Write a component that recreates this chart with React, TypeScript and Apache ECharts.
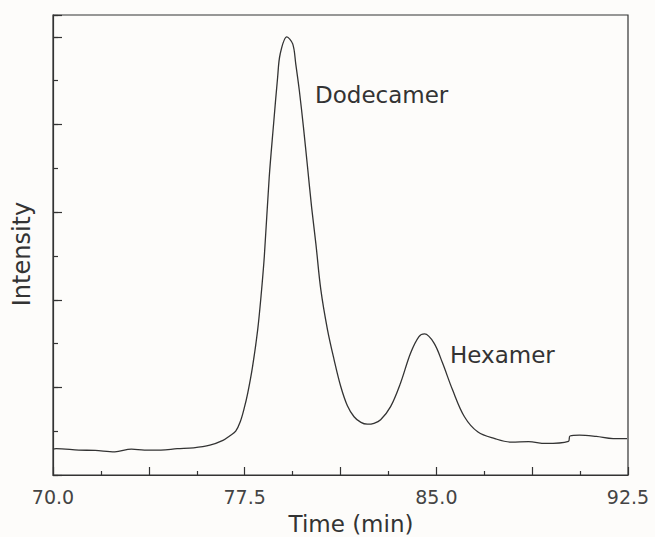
import React, { useEffect, useRef } from "react";
import * as echarts from "echarts";

// Elution time (min) and detector intensity (arbitrary units, axis tick = 1)
const times: number[] = [
  70.0, 70.12, 71.01, 71.65, 72.42, 73.07, 73.58, 74.22, 74.86, 75.5, 76.14, 76.65, 76.91, 77.15, 77.33,
  77.48, 77.62, 77.81, 78.01, 78.14, 78.27, 78.46, 78.63, 78.79, 78.89, 79.15, 79.38, 79.5, 79.64, 79.8,
  79.96, 80.12, 80.29, 80.48, 80.74, 81.0, 81.26, 81.52, 81.78, 82.05, 82.3, 82.56, 82.82, 83.21, 83.6,
  83.99, 84.32, 84.54, 84.91, 85.24, 85.63, 86.1, 86.63, 87.29, 87.94, 88.61, 89.27, 90.17, 90.23, 90.6,
  91.26, 91.92, 92.46,
];
const intensity: number[] = [
  0.59, 0.6, 0.57, 0.56, 0.53, 0.59, 0.57, 0.57, 0.6, 0.62, 0.68, 0.79, 0.89, 1.0, 1.22,
  1.52, 1.87, 2.48, 3.32, 4.08, 5.0, 6.79, 8.0, 9.08, 9.61, 10.0, 9.84, 9.38, 8.77, 7.94,
  7.03, 6.11, 5.26, 4.23, 3.32, 2.63, 2.02, 1.58, 1.33, 1.2, 1.16, 1.18, 1.26, 1.56, 2.1,
  2.78, 3.16, 3.22, 3.01, 2.56, 1.95, 1.33, 0.98, 0.83, 0.75, 0.76, 0.72, 0.77, 0.89, 0.91,
  0.88, 0.83, 0.83,
];

const xMin = 70;
const xMax = 92.5;
const xTickStep = 3.75;
const yMax = 10.5;

const peakLabels = [
  { text: "Dodecamer", x: 315, y: 95 },
  { text: "Hexamer", x: 450, y: 355 },
];

const FONT = "DejaVu Sans";
const INK = "#333";

export default function App() {
  const ref = useRef<HTMLDivElement>(null);
  useEffect(() => {
    if (!ref.current) return;
    const chart = echarts.init(ref.current, undefined, { renderer: "svg" });
    const data = times.map((t, i) => [t, intensity[i]]);
    chart.setOption({
      animation: false,
      backgroundColor: "#fdfcfa",
      grid: {
        left: 53,
        right: 27,
        top: 15,
        bottom: 62,
        show: true,
        borderColor: INK,
        borderWidth: 1.2,
        backgroundColor: "transparent",
      },
      xAxis: [
        {
          type: "value",
          min: 0,
          max: xMax - xMin,
          interval: xTickStep,
          position: "bottom",
          axisLine: { show: true, lineStyle: { color: INK, width: 1.2 } },
          axisTick: { show: true, inside: true, length: 8, lineStyle: { color: INK, width: 1.2 } },
          minorTick: { show: true, splitNumber: 2, length: 4, lineStyle: { color: INK, width: 1.2 } },
          splitLine: { show: false },
          minorSplitLine: { show: false },
          axisLabel: {
            interval: 1,
            margin: 12,
            fontFamily: FONT,
            fontSize: 19,
            color: "#444",
            formatter: (v: number) => {
              const r = Math.round((v / 7.5) * 1000) / 1000;
              return Number.isInteger(r) ? (v + xMin).toFixed(1) : "";
            },
          },
        },
        {
          type: "value",
          min: xMin,
          max: xMax,
          show: false,
        },
      ],
      yAxis: [
        {
          type: "value",
          min: 0,
          max: yMax,
          interval: 2,
          position: "left",
          axisLine: { show: true, lineStyle: { color: INK, width: 1.2 } },
          axisTick: { show: true, inside: true, length: 9, lineStyle: { color: INK, width: 1.2 } },
          axisLabel: { show: false },
          splitLine: { show: false },
        },
        {
          type: "value",
          min: 0,
          max: yMax,
          interval: 1,
          position: "left",
          offset: 0,
          axisLine: { show: false },
          axisTick: { show: true, inside: true, length: 5, lineStyle: { color: INK, width: 1.2 } },
          axisLabel: { show: false },
          splitLine: { show: false },
        },
      ],
      series: [
        {
          type: "line",
          xAxisIndex: 1,
          yAxisIndex: 0,
          data,
          smooth: 0.35,
          showSymbol: false,
          symbol: "none",
          lineStyle: { color: INK, width: 1.3 },
        },
      ],
      graphic: [
        ...peakLabels.map((p) => ({
          type: "text",
          x: p.x,
          y: p.y,
          style: {
            text: p.text,
            fontFamily: FONT,
            fontSize: 23,
            fill: INK,
            align: "left",
            verticalAlign: "middle",
          },
        })),
        {
          type: "text",
          x: 351,
          y: 524,
          style: {
            text: "Time (min)",
            fontFamily: FONT,
            fontSize: 23,
            fill: INK,
            align: "center",
            verticalAlign: "middle",
          },
        },
        {
          type: "text",
          x: 22,
          y: 254,
          rotation: Math.PI / 2,
          style: {
            text: "Intensity",
            fontFamily: FONT,
            fontSize: 24,
            fill: INK,
            align: "center",
            verticalAlign: "middle",
          },
        },
      ],
    });
    return () => chart.dispose();
  }, []);
  return (
    <div
      ref={ref}
      style={{ position: "fixed", left: 0, top: 0, width: 655, height: 537 }}
    />
  );
}
